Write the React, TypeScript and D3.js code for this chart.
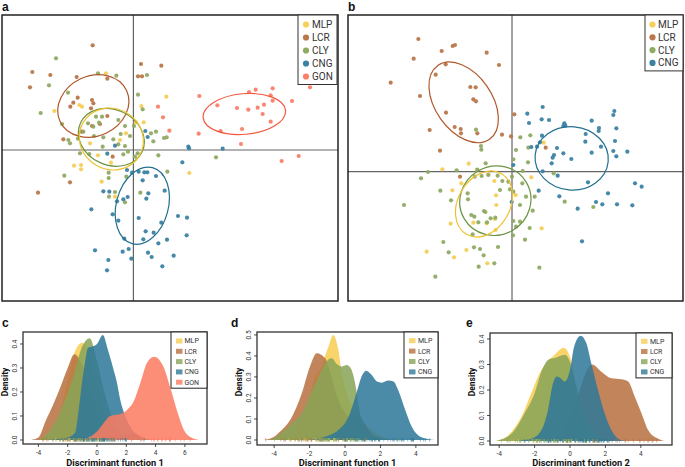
import React from 'react';
import * as d3 from 'd3';

type Pt = [number, number];

const GROUPS_A = ['MLP', 'LCR', 'CLY', 'CNG', 'GON'];
const GROUPS_B = ['MLP', 'LCR', 'CLY', 'CNG'];

const COLORS: Record<string, string> = {
  MLP: '#F6CF58',
  LCR: '#B9774B',
  CLY: '#8FAA63',
  CNG: '#3B82A2',
  GON: '#FA806A',
};
const FILL_COLORS: Record<string, string> = {
  MLP: '#F7CD52',
  LCR: '#B8703F',
  CLY: '#88A457',
  CNG: '#2F7898',
  GON: '#FB7C62',
};
const ELLIPSE_COLORS: Record<string, string> = {
  MLP: '#F0C030',
  LCR: '#B0582A',
  CLY: '#6A9442',
  CNG: '#23708F',
  GON: '#F4593F',
};

// ---------- Panel a: discriminant scores (unitless) ----------
const A_MLP: Pt[] = [[-0.82,2.30],[0.99,1.60],[-1.62,1.35],[-1.54,1.30],[-2.37,1.17],[0.24,1.32],[0.31,0.83],[-0.22,0.50],[-0.40,0.30],[-1.06,-0.16],[-0.67,-0.38],[-1.78,-0.47],[-1.57,-0.45],[-1.57,-0.58],[-0.95,-0.95],[1.68,-0.69],[-0.55,-1.40],[0.07,0.83],[-1.30,0.20]];
const A_LCR: Pt[] = [[-1.22,3.14],[-3.03,2.34],[-2.49,2.25],[-3.10,1.88],[-1.70,2.19],[-0.78,2.14],[0.23,2.58],[0.84,2.53],[0.14,2.21],[0.26,2.21],[-1.67,1.57],[-1.80,1.42],[-1.89,1.30],[-1.24,1.50],[-1.20,1.40],[-1.27,1.25],[-2.10,0.32],[-1.24,0.72],[-0.78,1.02],[-1.90,-0.97],[-2.86,-1.28],[-0.62,-0.20],[-1.55,0.55],[-1.00,0.78]];
const A_CLY: Pt[] = [[-2.32,2.75],[-1.06,2.30],[-0.51,2.23],[0.41,2.25],[-2.53,1.94],[-1.96,1.72],[0.14,1.66],[-2.78,1.11],[-2.14,0.78],[0.28,1.22],[-1.12,1.00],[-0.94,1.00],[-1.36,0.80],[-1.20,0.70],[-1.03,0.82],[-0.45,0.90],[-0.25,0.72],[0.02,0.72],[-1.95,0.30],[-1.66,0.34],[-1.18,0.42],[-0.90,0.38],[-0.60,0.32],[-1.50,0.55],[-0.92,0.10],[-0.45,0.17],[-0.25,0.12],[-1.60,-0.10],[-1.32,-0.12],[-0.30,-0.13],[-0.16,-0.05],[0.13,-0.10],[0.05,-0.20],[0.53,0.50],[0.68,0.55],[0.92,0.36],[1.00,0.38],[0.60,0.26],[0.75,-0.16],[1.02,-0.65],[-0.74,-0.68],[-0.74,-0.84],[-0.21,-0.80],[-2.07,-0.77],[0.21,-1.28],[-0.25,-1.57],[-0.55,-1.26],[-0.73,-1.40],[2.48,-0.22],[-0.38,0.48],[-0.10,0.42],[-1.90,0.20]];
const A_CNG: Pt[] = [[1.65,0.10],[1.67,0.05],[2.68,0.04],[1.47,-0.37],[-0.55,0.13],[-0.78,-0.11],[0.36,0.57],[0.43,0.39],[-0.04,-0.68],[0.16,-0.65],[-0.19,-0.60],[0.33,-0.67],[0.42,-0.67],[0.68,-0.78],[0.28,-0.91],[0.94,-1.22],[0.45,-1.30],[0.39,-1.46],[-0.90,-1.24],[-0.72,-1.25],[-0.49,-1.54],[-0.30,-1.48],[-0.17,-1.41],[-0.62,-1.93],[-1.26,-1.78],[-0.45,-2.12],[0.16,-2.04],[0.84,-2.18],[1.34,-1.98],[1.61,-2.03],[0.37,-2.44],[0.61,-2.48],[1.60,-2.56],[-0.27,-2.66],[0.30,-2.68],[0.75,-2.80],[1.01,-2.69],[-0.14,-2.97],[-0.32,-3.05],[-1.15,-3.01],[0.44,-3.08],[0.55,-3.21],[1.21,-3.17],[-0.06,-3.26],[-0.75,-3.30],[0.87,-3.49],[-0.79,-3.61]];
const A_GON: Pt[] = [[1.98,1.62],[2.52,1.34],[3.11,1.26],[3.45,1.21],[3.73,1.27],[3.92,1.36],[3.47,1.74],[3.67,1.81],[4.18,1.85],[4.12,1.64],[4.18,1.48],[4.76,1.47],[5.30,1.88],[3.88,1.08],[0.74,1.30],[0.89,0.98],[1.08,0.58],[1.96,0.49],[2.62,0.57],[3.26,0.63],[4.12,0.85],[3.23,0.18],[4.45,-0.33],[4.96,-0.18]];

const ELLIPSES_A = [
  { g: 'LCR', cx: -1.20, cy: 1.32, a: 1.10, b: 0.90, angle: -25 },
  { g: 'CLY', cx: -0.66, cy: 0.38, a: 1.02, b: 0.83, angle: 25 },
  { g: 'MLP', cx: -0.66, cy: 0.33, a: 0.98, b: 0.91, angle: 30 },
  { g: 'CNG', cx: 0.27, cy: -1.67, a: 1.18, b: 0.78, angle: -75 },
  { g: 'GON', cx: 3.33, cy: 1.08, a: 1.24, b: 0.61, angle: -5 },
];

// ---------- Panel b ----------
const B_MLP: Pt[] = [[-1.30,0.24],[-2.09,0.07],[-1.05,0.05],[-1.52,-0.35],[-1.79,-0.56],[-0.53,-0.28],[-0.71,-0.08],[0.58,-0.17],[0.11,-0.70],[-0.48,-0.71],[-0.47,-1.00],[-1.84,-1.56],[-1.16,-1.53],[-0.76,-1.55],[-0.51,-1.42],[-0.49,-1.75],[0.89,-1.70],[-2.56,-2.40],[-1.74,-2.57],[-1.37,-2.35],[-0.74,-2.75],[0.95,0.87]];
const B_LCR: Pt[] = [[-2.81,3.98],[-2.95,3.39],[-2.11,3.62],[-1.78,3.77],[-1.71,3.80],[-0.76,3.57],[-0.39,3.20],[-3.64,2.67],[-2.76,2.27],[-2.29,2.91],[-1.99,3.22],[-1.25,2.54],[-1.09,2.53],[-1.16,2.17],[-1.08,2.11],[-1.98,1.77],[-1.72,1.34],[-1.54,1.28],[-1.53,1.15],[-2.47,1.25],[-1.04,1.15],[-0.30,1.11],[-0.03,1.06],[-2.16,0.63],[0.07,1.72],[1.01,0.72],[-1.56,-0.15]];
const B_CLY: Pt[] = [[-1.08,1.26],[-0.93,0.77],[-0.92,0.66],[0.25,1.03],[0.55,1.09],[0.12,0.65],[0.49,0.72],[0.48,0.28],[0.04,0.37],[-0.79,0.25],[-2.52,-0.01],[-2.73,-0.20],[-1.66,0.04],[-1.04,0.06],[-1.12,-0.15],[-0.91,-0.13],[-0.71,-0.10],[-0.43,-0.12],[-0.29,-0.28],[-0.11,-0.30],[0.00,-0.15],[0.32,0.02],[0.31,-0.35],[-3.24,-1.00],[-2.15,-0.57],[-1.83,-0.86],[-1.33,-0.65],[-1.32,-0.83],[-0.36,-0.55],[-0.06,-0.53],[0.04,-0.60],[0.42,-0.75],[0.68,-0.75],[0.24,-1.00],[0.62,-1.17],[-1.22,-1.30],[-1.13,-1.35],[-0.84,-1.18],[-0.80,-1.21],[-0.64,-1.40],[-0.50,-1.38],[-1.01,-1.52],[-0.75,-1.52],[0.04,-1.48],[0.24,-1.50],[0.12,-1.65],[0.53,-1.69],[-1.18,-1.88],[0.03,-1.91],[0.39,-2.04],[-2.06,-2.11],[-1.90,-2.42],[-1.14,-2.27],[-0.96,-2.32],[-0.42,-2.26],[-0.85,-2.51],[-0.53,-2.75],[-1.00,-2.85],[-2.30,-3.15],[0.82,-2.88],[1.25,-0.05],[1.58,-0.90],[2.44,-1.06]];
const B_CNG: Pt[] = [[0.92,1.94],[0.46,1.74],[0.89,1.57],[1.11,1.55],[0.51,1.46],[1.57,1.45],[1.60,1.38],[1.54,1.37],[2.39,1.53],[3.07,1.82],[3.04,1.70],[2.61,1.31],[2.60,1.22],[3.13,1.30],[2.21,1.13],[0.90,1.08],[0.84,0.88],[0.75,0.75],[2.20,0.90],[2.67,0.75],[3.09,0.92],[1.35,0.71],[1.26,0.50],[1.54,0.55],[1.22,0.42],[1.19,0.25],[1.78,0.38],[2.39,0.57],[3.04,0.62],[3.13,0.46],[3.46,0.60],[0.04,0.20],[0.92,0.01],[1.37,-0.12],[2.28,-0.32],[0.58,0.74],[3.69,-0.35],[3.89,-0.45],[0.80,-0.57],[1.42,-0.74],[2.88,-0.65],[2.52,-0.91],[2.71,-0.98],[3.15,-0.98],[3.61,-1.01],[1.97,-1.11],[2.10,-2.09],[-0.01,-0.91]];

const ELLIPSES_B = [
  { g: 'LCR', cx: -1.45, cy: 2.08, a: 1.35, b: 0.85, angle: 55 },
  { g: 'CNG', cx: 1.79, cy: 0.40, a: 1.10, b: 0.95, angle: 5 },
  { g: 'CLY', cx: -0.50, cy: -0.87, a: 1.08, b: 1.03, angle: -30 },
  { g: 'MLP', cx: -0.84, cy: -0.97, a: 1.05, b: 0.78, angle: -60 },
];

// scatter units -> discriminant function units (for rugs)
const RUG_SCALE_A = 1.2;
const RUG_SCALE_B = 1.23;

// ---------- Density curves ----------
const C_MLP: Pt[] = [[-4,0],[-3.5,0.01],[-3,0.04],[-2.5,0.12],[-2,0.25],[-1.5,0.37],[-1,0.405],[-0.5,0.36],[0,0.22],[0.5,0.12],[1,0.05],[1.5,0.02],[2,0.005],[2.5,0]];
const C_LCR: Pt[] = [[-4.5,0],[-4,0.01],[-3.5,0.08],[-3,0.146],[-2.5,0.22],[-2,0.3],[-1.55,0.357],[-1,0.31],[-0.5,0.21],[0,0.12],[0.5,0.06],[1,0.03],[1.5,0.02],[2,0.02],[2.6,0.027],[3,0.015],[3.5,0.003],[4,0]];
const C_CLY: Pt[] = [[-4,0],[-3.5,0.02],[-2.8,0.08],[-2.05,0.19],[-1.5,0.29],[-1.1,0.375],[-0.5,0.424],[0,0.33],[0.5,0.2],[1,0.1],[1.5,0.04],[2,0.015],[2.5,0.005],[3,0]];
const C_CNG: Pt[] = [[-3.4,0],[-2.5,0.005],[-2,0.01],[-1.5,0.03],[-1.2,0.15],[-1,0.25],[-0.8,0.33],[-0.6,0.385],[-0.3,0.39],[0,0.4],[0.4,0.437],[0.75,0.375],[1.1,0.3],[1.36,0.24],[1.58,0.17],[2,0.09],[2.5,0.035],[3,0.01],[3.5,0]];
const C_GON: Pt[] = [[-1.2,0],[-0.7,0.007],[0,0.035],[0.45,0.07],[0.9,0.1],[1.6,0.108],[2.05,0.125],[2.5,0.16],[2.95,0.236],[3.4,0.32],[3.9,0.347],[4.5,0.31],[5,0.22],[5.5,0.115],[6,0.035],[6.5,0.008],[7,0]];

const D_MLP: Pt[] = [[-3.8,0],[-3.3,0.01],[-2.8,0.04],[-2.4,0.1],[-2,0.206],[-1.7,0.3],[-1.32,0.35],[-1.13,0.4],[-0.94,0.444],[-0.66,0.5],[-0.38,0.43],[-0.2,0.33],[0,0.25],[0.4,0.16],[0.8,0.11],[1.2,0.07],[1.6,0.04],[2,0.02],[2.5,0.006],[3,0]];
const D_LCR: Pt[] = [[-4.6,0],[-4,0.015],[-3.77,0.032],[-3,0.11],[-2.45,0.22],[-1.98,0.35],[-1.6,0.413],[-1.13,0.39],[-0.8,0.31],[-0.5,0.22],[0,0.13],[0.4,0.1],[0.75,0.12],[1.1,0.08],[1.5,0.03],[2,0.01],[2.5,0]];
const D_CLY: Pt[] = [[-4.3,0],[-4,0.01],[-3.4,0.048],[-3,0.08],[-2.45,0.127],[-1.9,0.23],[-1.5,0.3],[-1.13,0.365],[-0.75,0.389],[-0.45,0.36],[-0.2,0.35],[0.1,0.357],[0.3,0.345],[0.57,0.27],[0.75,0.175],[0.94,0.095],[1.32,0.032],[2,0.008],[2.5,0]];
const D_CNG: Pt[] = [[-2.1,0],[-1.13,0.016],[-0.38,0.048],[0.19,0.11],[0.47,0.175],[0.75,0.254],[0.98,0.31],[1.2,0.33],[1.5,0.31],[1.8,0.278],[2.07,0.273],[2.45,0.283],[2.74,0.278],[3.0,0.238],[3.4,0.143],[3.77,0.063],[4.25,0.016],[5.1,0]];

const E_MLP: Pt[] = [[-4.2,0],[-3.5,0.022],[-2.75,0.095],[-2.19,0.187],[-1.72,0.266],[-1.34,0.305],[-0.87,0.338],[-0.36,0.366],[0,0.33],[0.26,0.25],[0.5,0.17],[1,0.08],[1.5,0.03],[2,0.01],[2.5,0]];
const E_LCR: Pt[] = [[-1.5,0],[-1,0.01],[-0.5,0.04],[0,0.1],[0.5,0.19],[0.9,0.27],[1.25,0.3],[1.77,0.272],[2.34,0.246],[2.9,0.242],[3.28,0.233],[3.66,0.174],[4.04,0.108],[4.42,0.042],[4.98,0.009],[5.36,0]];
const E_CLY: Pt[] = [[-4.17,0],[-3.3,0.029],[-2.57,0.108],[-2.0,0.187],[-1.58,0.279],[-1.2,0.32],[-0.87,0.325],[-0.3,0.338],[0,0.31],[0.26,0.24],[0.55,0.16],[0.83,0.095],[1.2,0.05],[1.77,0.016],[2.3,0]];
const E_CNG: Pt[] = [[-3.17,0],[-2.19,0.009],[-1.62,0.042],[-1.25,0.12],[-0.96,0.226],[-0.75,0.253],[-0.53,0.246],[-0.3,0.233],[0,0.279],[0.23,0.37],[0.6,0.413],[0.92,0.384],[1.2,0.305],[1.58,0.2],[1.96,0.108],[2.34,0.042],[2.72,0.009],[3.1,0]];

const X_TICKS_C = [-4, -2, 0, 2, 4, 6];
const Y_TICKS_C = [0, 0.1, 0.2, 0.3, 0.4];
const X_TICKS_D = [-4, -2, 0, 2, 4];
const Y_TICKS_D = [0, 0.1, 0.2, 0.3, 0.4, 0.5];
const X_TICKS_E = [-4, -2, 0, 2, 4];
const Y_TICKS_E = [0, 0.1, 0.2, 0.3, 0.4];

const FONT = 'Roboto, "Noto Sans", sans-serif';

type Frame = { x0: number; x1: number; y0: number; y1: number };

function Scatter(props: {
  frame: Frame; xDomain: number[]; yDomain: number[];
  data: Record<string, Pt[]>; groups: string[]; ellipses: any[];
  legend: { x0: number; x1: number; y0: number; cx: number; tx: number; first: number; step: number };
}) {
  const { frame, xDomain, yDomain, data, groups, ellipses, legend } = props;
  const x = d3.scaleLinear().domain(xDomain).range([frame.x0, frame.x1]);
  const y = d3.scaleLinear().domain(yDomain).range([frame.y1, frame.y0]);
  const k = x(1) - x(0);
  const lh = legend.first - legend.y0 + legend.step * (groups.length - 1) + 8;
  return (
    <g>
      <line x1={x(0)} x2={x(0)} y1={frame.y0} y2={frame.y1} stroke="#444" strokeWidth={1} />
      <line x1={frame.x0} x2={frame.x1} y1={y(0)} y2={y(0)} stroke="#666" strokeWidth={1.2} />
      {groups.map((g) =>
        data[g].map((p, i) => (
          <circle key={g + i} cx={x(p[0])} cy={y(p[1])} r={2.1} fill={COLORS[g]} fillOpacity={0.95} />
        ))
      )}
      {ellipses.map((e) => (
        <ellipse key={e.g} cx={0} cy={0} rx={e.a * k} ry={e.b * k}
          transform={`translate(${x(e.cx)},${y(e.cy)}) rotate(${e.angle})`}
          fill="none" stroke={ELLIPSE_COLORS[e.g]} strokeWidth={1.2} />
      ))}
      <rect x={frame.x0} y={frame.y0} width={frame.x1 - frame.x0} height={frame.y1 - frame.y0}
        fill="none" stroke="#222" strokeWidth={1.5} />
      <rect x={legend.x0} y={legend.y0} width={legend.x1 - legend.x0} height={lh}
        fill="#fff" stroke="#333" strokeWidth={1} />
      {groups.map((g, i) => (
        <g key={g}>
          <circle cx={legend.cx} cy={legend.first + i * legend.step} r={3.1} fill={COLORS[g]} />
          <text x={legend.tx} y={legend.first + i * legend.step} dy="0.35em" fontSize={10}
            fontFamily={FONT} fill="#333">{g}</text>
        </g>
      ))}
    </g>
  );
}

function Density(props: {
  frame: Frame; xDomain: number[]; yDomain: number[];
  series: Record<string, Pt[]>; groups: string[];
  rug: Record<string, number[]>;
  xTicks: number[]; yTicks: number[]; xLabel: string;
  legend: { x0: number; x1: number; y0: number; sx: number; tx: number; first: number; step: number };
}) {
  const { frame, xDomain, yDomain, series, groups, rug, xTicks, yTicks, xLabel, legend } = props;
  const x = d3.scaleLinear().domain(xDomain).range([frame.x0, frame.x1]);
  const y = d3.scaleLinear().domain(yDomain).range([frame.y1, frame.y0]);
  const area = d3.area<Pt>().x((d) => x(d[0])).y0(y(0)).y1((d) => y(d[1])).curve(d3.curveMonotoneX);
  const lh = legend.first - legend.y0 + legend.step * (groups.length - 1) + 6;
  const cxm = (frame.x0 + frame.x1) / 2;
  return (
    <g fontFamily={FONT}>
      {groups.map((g) => (
        <path key={g} d={area(series[g]) || ''} fill={FILL_COLORS[g]} fillOpacity={0.86} />
      ))}
      {groups.map((g) =>
        rug[g].map((v, i) => (
          <line key={g + i} x1={x(v)} x2={x(v)} y1={y(0) - 2} y2={y(0) + 1.5}
            stroke={FILL_COLORS[g]} strokeWidth={0.6} strokeOpacity={0.9} />
        ))
      )}
      <rect x={frame.x0} y={frame.y0} width={frame.x1 - frame.x0} height={frame.y1 - frame.y0}
        fill="none" stroke="#222" strokeWidth={1.2} />
      {xTicks.map((t) => (
        <g key={'x' + t}>
          <line x1={x(t)} x2={x(t)} y1={frame.y1} y2={frame.y1 + 3} stroke="#222" strokeWidth={0.8} />
          <text x={x(t)} y={frame.y1 + 9} textAnchor="middle" dy="0.35em" fontSize={6.5} fill="#333">
            {t < 0 ? '-' + Math.abs(t) : String(t)}
          </text>
        </g>
      ))}
      {yTicks.map((t) => (
        <g key={'y' + t}>
          <line x1={frame.x0 - 3} x2={frame.x0} y1={y(t)} y2={y(t)} stroke="#222" strokeWidth={0.8} />
          <text transform={`translate(${frame.x0 - 8},${y(t)}) rotate(-90)`} textAnchor="middle"
            dy="0.35em" fontSize={6.5} fill="#333">{d3.format('.1f')(t)}</text>
        </g>
      ))}
      <text transform={`translate(${frame.x0 - 18},382) rotate(-90)`} textAnchor="middle" dy="0.35em"
        fontSize={8.5} fontWeight="bold" fill="#111">Density</text>
      <text x={cxm} y={463} textAnchor="middle" dy="0.35em" fontSize={9.3} fontWeight="bold" fill="#111">{xLabel}</text>
      <rect x={legend.x0} y={legend.y0} width={legend.x1 - legend.x0} height={lh}
        fill="#fff" stroke="#222" strokeWidth={1} />
      {groups.map((g, i) => (
        <g key={'l' + g}>
          <rect x={legend.sx} y={legend.first + i * legend.step - 2.5} width={6.5} height={5}
            fill={FILL_COLORS[g]} fillOpacity={0.8} />
          <text x={legend.tx} y={legend.first + i * legend.step} dy="0.35em" fontSize={7} fill="#333">{g}</text>
        </g>
      ))}
    </g>
  );
}

export default function App() {
  const dataA: Record<string, Pt[]> = { MLP: A_MLP, LCR: A_LCR, CLY: A_CLY, CNG: A_CNG, GON: A_GON };
  const dataB: Record<string, Pt[]> = { MLP: B_MLP, LCR: B_LCR, CLY: B_CLY, CNG: B_CNG };
  const rugC: Record<string, number[]> = {};
  GROUPS_A.forEach((g) => (rugC[g] = dataA[g].map((p) => p[0] * RUG_SCALE_A)));
  const rugD: Record<string, number[]> = {};
  const rugE: Record<string, number[]> = {};
  GROUPS_B.forEach((g) => {
    rugD[g] = dataB[g].map((p) => p[0] * RUG_SCALE_B);
    rugE[g] = dataB[g].map((p) => p[1] * RUG_SCALE_B);
  });
  const letter = (s: string, xx: number, yy: number) => (
    <text x={xx} y={yy} fontSize={12} fontWeight="bold" fontFamily='"Liberation Sans", Arial, sans-serif' fill="#111">{s}</text>
  );
  return (
    <svg width={685} height={467} style={{ position: 'absolute', left: 0, top: 0, background: '#fff' }}>
      <rect x={0} y={0} width={685} height={467} fill="#fff" />
      {letter('a', 2, 11)}
      {letter('b', 348, 11)}
      {letter('c', 2, 327)}
      {letter('d', 231, 327)}
      {letter('e', 466, 327)}
      <Scatter frame={{ x0: 2, x1: 338, y0: 15, y1: 301 }} xDomain={[-3.94, 6.14]} yDomain={[-4.53, 4.05]}
        data={dataA} groups={GROUPS_A} ellipses={ELLIPSES_A}
        legend={{ x0: 298, x1: 337, y0: 15, cx: 306, tx: 312, first: 24.5, step: 13 }} />
      <Scatter frame={{ x0: 348, x1: 683, y0: 15, y1: 301 }} xDomain={[-4.92, 5.13]} yDomain={[-3.88, 4.7]}
        data={dataB} groups={GROUPS_B} ellipses={ELLIPSES_B}
        legend={{ x0: 645, x1: 683, y0: 15, cx: 652.5, tx: 658, first: 24.5, step: 12.8 }} />
      <Density frame={{ x0: 23, x1: 207, y0: 332, y1: 444 }} xDomain={[-5.05, 7.51]} yDomain={[-0.0167, 0.45]}
        series={{ MLP: C_MLP, LCR: C_LCR, CLY: C_CLY, CNG: C_CNG, GON: C_GON }} groups={GROUPS_A} rug={rugC}
        xTicks={X_TICKS_C} yTicks={Y_TICKS_C} xLabel="Discriminant function 1"
        legend={{ x0: 171, x1: 207, y0: 332, sx: 176, tx: 184.5, first: 341, step: 10.3 }} />
      <Density frame={{ x0: 257, x1: 438, y0: 332, y1: 445 }} xDomain={[-4.97, 5.25]} yDomain={[-0.0238, 0.514]}
        series={{ MLP: D_MLP, LCR: D_LCR, CLY: D_CLY, CNG: D_CNG }} groups={GROUPS_B} rug={rugD}
        xTicks={X_TICKS_D} yTicks={Y_TICKS_D} xLabel="Discriminant function 1"
        legend={{ x0: 404, x1: 438, y0: 332, sx: 409, tx: 418, first: 340.7, step: 10.4 }} />
      <Density frame={{ x0: 490, x1: 672, y0: 333, y1: 445 }} xDomain={[-4.52, 5.76]} yDomain={[-0.0157, 0.4235]}
        series={{ MLP: E_MLP, LCR: E_LCR, CLY: E_CLY, CNG: E_CNG }} groups={GROUPS_B} rug={rugE}
        xTicks={X_TICKS_E} yTicks={Y_TICKS_E} xLabel="Discriminant function 2"
        legend={{ x0: 636, x1: 672, y0: 333, sx: 641, tx: 650, first: 341.3, step: 10.2 }} />
    </svg>
  );
}
